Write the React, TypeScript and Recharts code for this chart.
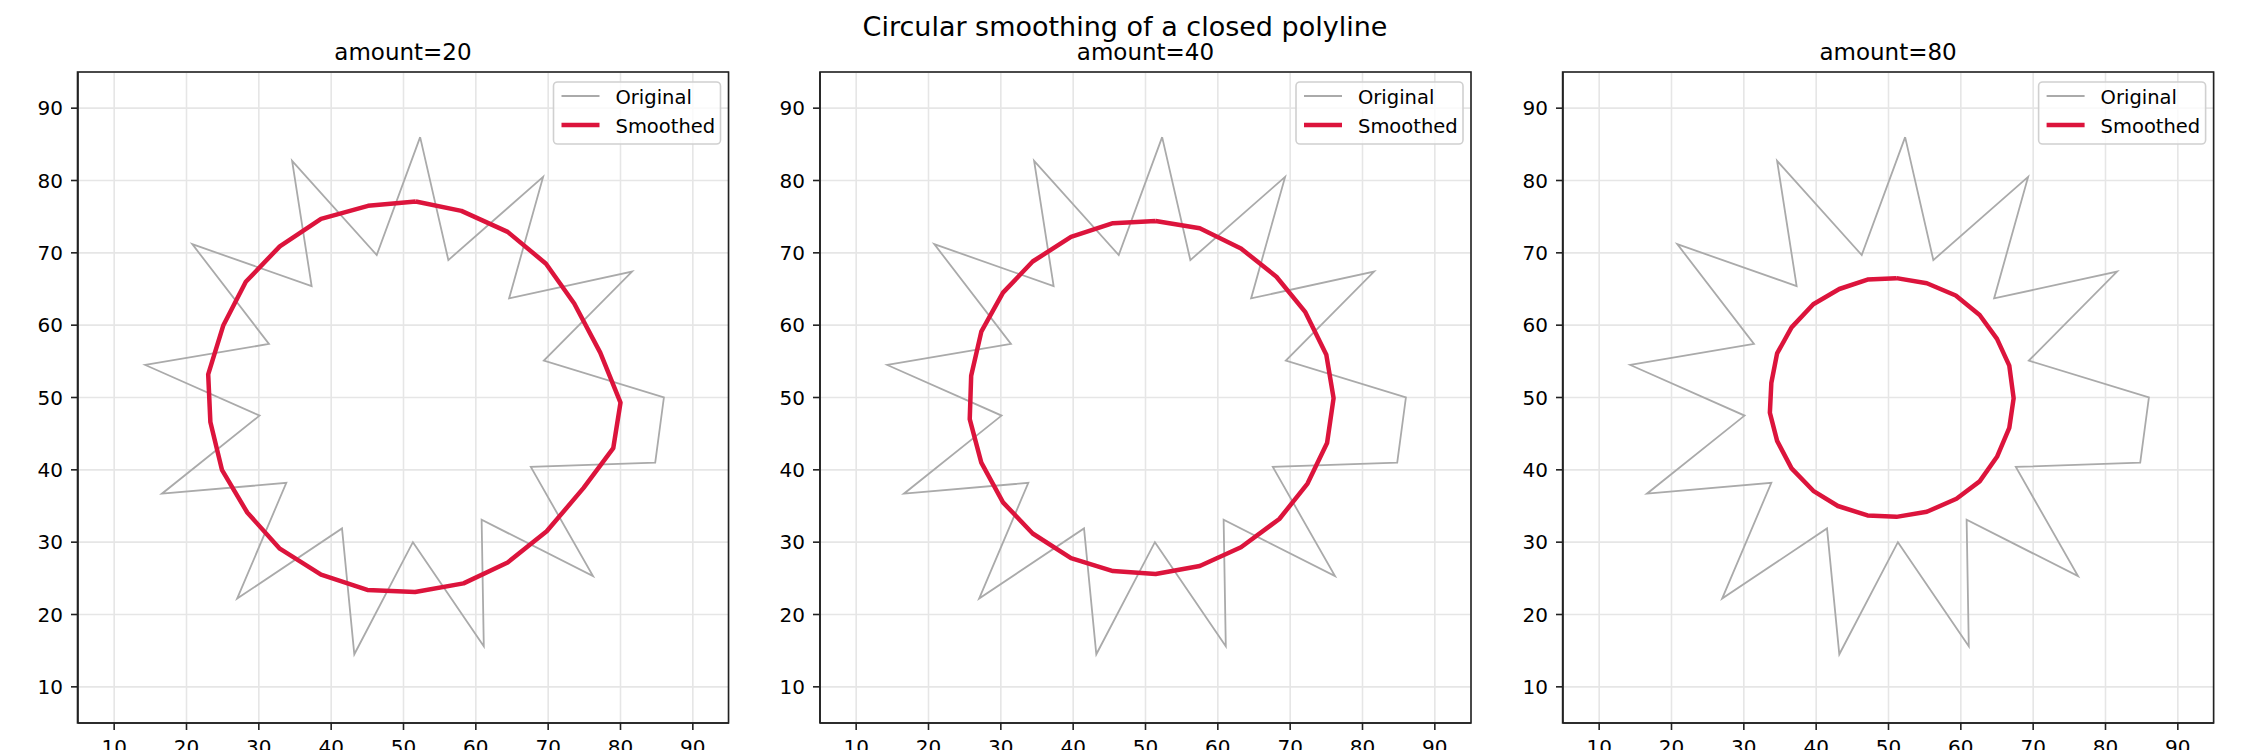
import React from 'react';
import { ScatterChart, Scatter, XAxis, YAxis, CartesianGrid } from 'recharts';

// original star-shaped polyline (closed)
const originalX = [52.3, 56.2, 69.3, 64.6, 81.6, 69.4, 86.0, 84.8, 67.6, 76.2, 60.8, 61.1, 51.3, 43.2, 41.5, 27.0, 33.8, 16.6, 30.1, 14.3, 31.4, 20.8, 37.3, 34.6, 46.3];
const originalY = [86.0, 69.0, 80.5, 63.7, 67.4, 55.1, 50.0, 41.0, 40.4, 25.3, 33.1, 15.6, 30.0, 14.5, 31.9, 22.2, 38.2, 36.7, 47.5, 54.5, 57.4, 71.2, 65.4, 82.7, 69.7];

// smoothed results, one pair per amount
const smooth20X = [51.7, 45.1, 38.6, 32.9, 28.2, 25.1, 23.0, 23.3, 24.9, 28.4, 32.9, 38.6, 45.0, 51.6, 58.3, 64.4, 69.8, 74.9, 79.0, 80.0, 77.2, 73.6, 69.7, 64.4, 58.0];
const smooth20Y = [77.1, 76.5, 74.7, 70.9, 66.0, 60.0, 53.2, 46.6, 40.0, 34.1, 29.1, 25.5, 23.4, 23.1, 24.3, 27.2, 31.5, 37.5, 43.0, 49.3, 56.2, 63.0, 68.5, 72.9, 75.8];

const smooth40X = [51.4, 45.5, 39.7, 34.4, 30.3, 27.3, 25.9, 25.7, 27.3, 30.3, 34.4, 39.7, 45.5, 51.4, 57.5, 63.2, 68.5, 72.4, 75.1, 76.0, 75.0, 72.1, 68.1, 63.2, 57.5];
const smooth40Y = [74.4, 74.1, 72.2, 68.8, 64.5, 59.1, 53.0, 47.0, 41.0, 35.5, 31.2, 27.8, 26.0, 25.6, 26.7, 29.3, 33.2, 38.1, 43.7, 49.9, 55.9, 61.8, 66.7, 70.6, 73.4];

const smooth80X = [51.1, 47.1, 43.2, 39.6, 36.6, 34.6, 33.8, 33.6, 34.6, 36.6, 39.6, 43.0, 47.1, 51.1, 55.3, 59.4, 62.6, 65.0, 66.7, 67.3, 66.7, 65.0, 62.6, 59.3, 55.3];
const smooth80Y = [66.5, 66.3, 65.0, 62.9, 59.7, 56.1, 52.0, 47.9, 44.0, 40.2, 37.1, 35.0, 33.7, 33.5, 34.2, 36.0, 38.4, 41.8, 45.8, 49.9, 54.4, 58.1, 61.4, 64.1, 65.8];

const amounts = [20, 40, 80];
const ticks = [10, 20, 30, 40, 50, 60, 70, 80, 90];

const closed = (xs: number[], ys: number[]) => {
  const pts = xs.map((x, i) => ({ x, y: ys[i] }));
  return [...pts, pts[0]];
};

const original = closed(originalX, originalY);
const smoothed = [
  closed(smooth20X, smooth20Y),
  closed(smooth40X, smooth40Y),
  closed(smooth80X, smooth80Y),
];

const FONT = '"DejaVu Sans", sans-serif';
const GRAY = '#aaaaaa';
const RED = '#dc143c';
const PLOT_LEFTS = [77.5, 820, 1562.6];
const PLOT_TOP = 72;
const PLOT_SIZE = 651;
const Y_W = 70;
const PAD_R = 10;

const noDot = () => <g />;

const Panel = ({ idx }: { idx: number }) => {
  const left = PLOT_LEFTS[idx];
  return (
    <div style={{ position: 'absolute', left: left - Y_W, top: 0 }}>
      <ScatterChart
        width={Y_W + PLOT_SIZE + PAD_R}
        height={750}
        margin={{ top: PLOT_TOP, right: PAD_R, bottom: 0, left: 0 }}
      >
        <CartesianGrid stroke="#e6e6e6" strokeWidth={1.6} />
        <XAxis
          type="number"
          dataKey="x"
          domain={[5, 95]}
          ticks={ticks}
          height={750 - PLOT_TOP - PLOT_SIZE}
          tickSize={7}
          tickMargin={10}
          stroke="#222"
          strokeWidth={1.6}
          tick={{ fill: '#000', fontSize: 20, fontFamily: FONT }}
        />
        <YAxis
          type="number"
          dataKey="y"
          domain={[5, 95]}
          ticks={ticks}
          width={Y_W}
          tickSize={7}
          tickMargin={8}
          stroke="#222"
          strokeWidth={1.6}
          tick={{ fill: '#000', fontSize: 20, fontFamily: FONT }}
        />
        <Scatter
          data={original}
          line={{ stroke: GRAY, strokeWidth: 1.8 }}
          shape={noDot}
          isAnimationActive={false}
        />
        <Scatter
          data={smoothed[idx]}
          line={{ stroke: RED, strokeWidth: 4.5, strokeLinejoin: 'round' }}
          shape={noDot}
          isAnimationActive={false}
        />
      </ScatterChart>
    </div>
  );
};

export default function App() {
  return (
    <div style={{ position: 'absolute', left: 0, top: 0, width: 2250, height: 750, background: '#fff', fontFamily: FONT }}>
      {amounts.map((_, i) => (
        <Panel key={i} idx={i} />
      ))}
      <svg width={2250} height={750} style={{ position: 'absolute', left: 0, top: 0, pointerEvents: 'none' }}>
        <text x={1125} y={36} textAnchor="middle" fontSize={27} fontFamily={FONT} fill="#000">
          Circular smoothing of a closed polyline
        </text>
        {amounts.map((a, i) => {
          const left = PLOT_LEFTS[i];
          const right = left + PLOT_SIZE;
          const lx = right - 8 - 167;
          return (
            <g key={a}>
              <text x={left + PLOT_SIZE / 2} y={60} textAnchor="middle" fontSize={23} fontFamily={FONT} fill="#000">
                {`amount=${a}`}
              </text>
              <rect x={left} y={PLOT_TOP} width={PLOT_SIZE} height={PLOT_SIZE} fill="none" stroke="#222" strokeWidth={1.6} />
              <rect x={lx} y={82} width={167} height={62} rx={4} fill="#fff" fillOpacity={0.8} stroke="#d0d0d0" strokeWidth={1.6} />
              <line x1={lx + 8} x2={lx + 46} y1={96} y2={96} stroke={GRAY} strokeWidth={1.8} />
              <line x1={lx + 8} x2={lx + 46} y1={125} y2={125} stroke={RED} strokeWidth={4.5} />
              <text x={lx + 62} y={103.5} fontSize={19.5} fontFamily={FONT} fill="#000">Original</text>
              <text x={lx + 62} y={132.5} fontSize={19.5} fontFamily={FONT} fill="#000">Smoothed</text>
            </g>
          );
        })}
      </svg>
    </div>
  );
}
